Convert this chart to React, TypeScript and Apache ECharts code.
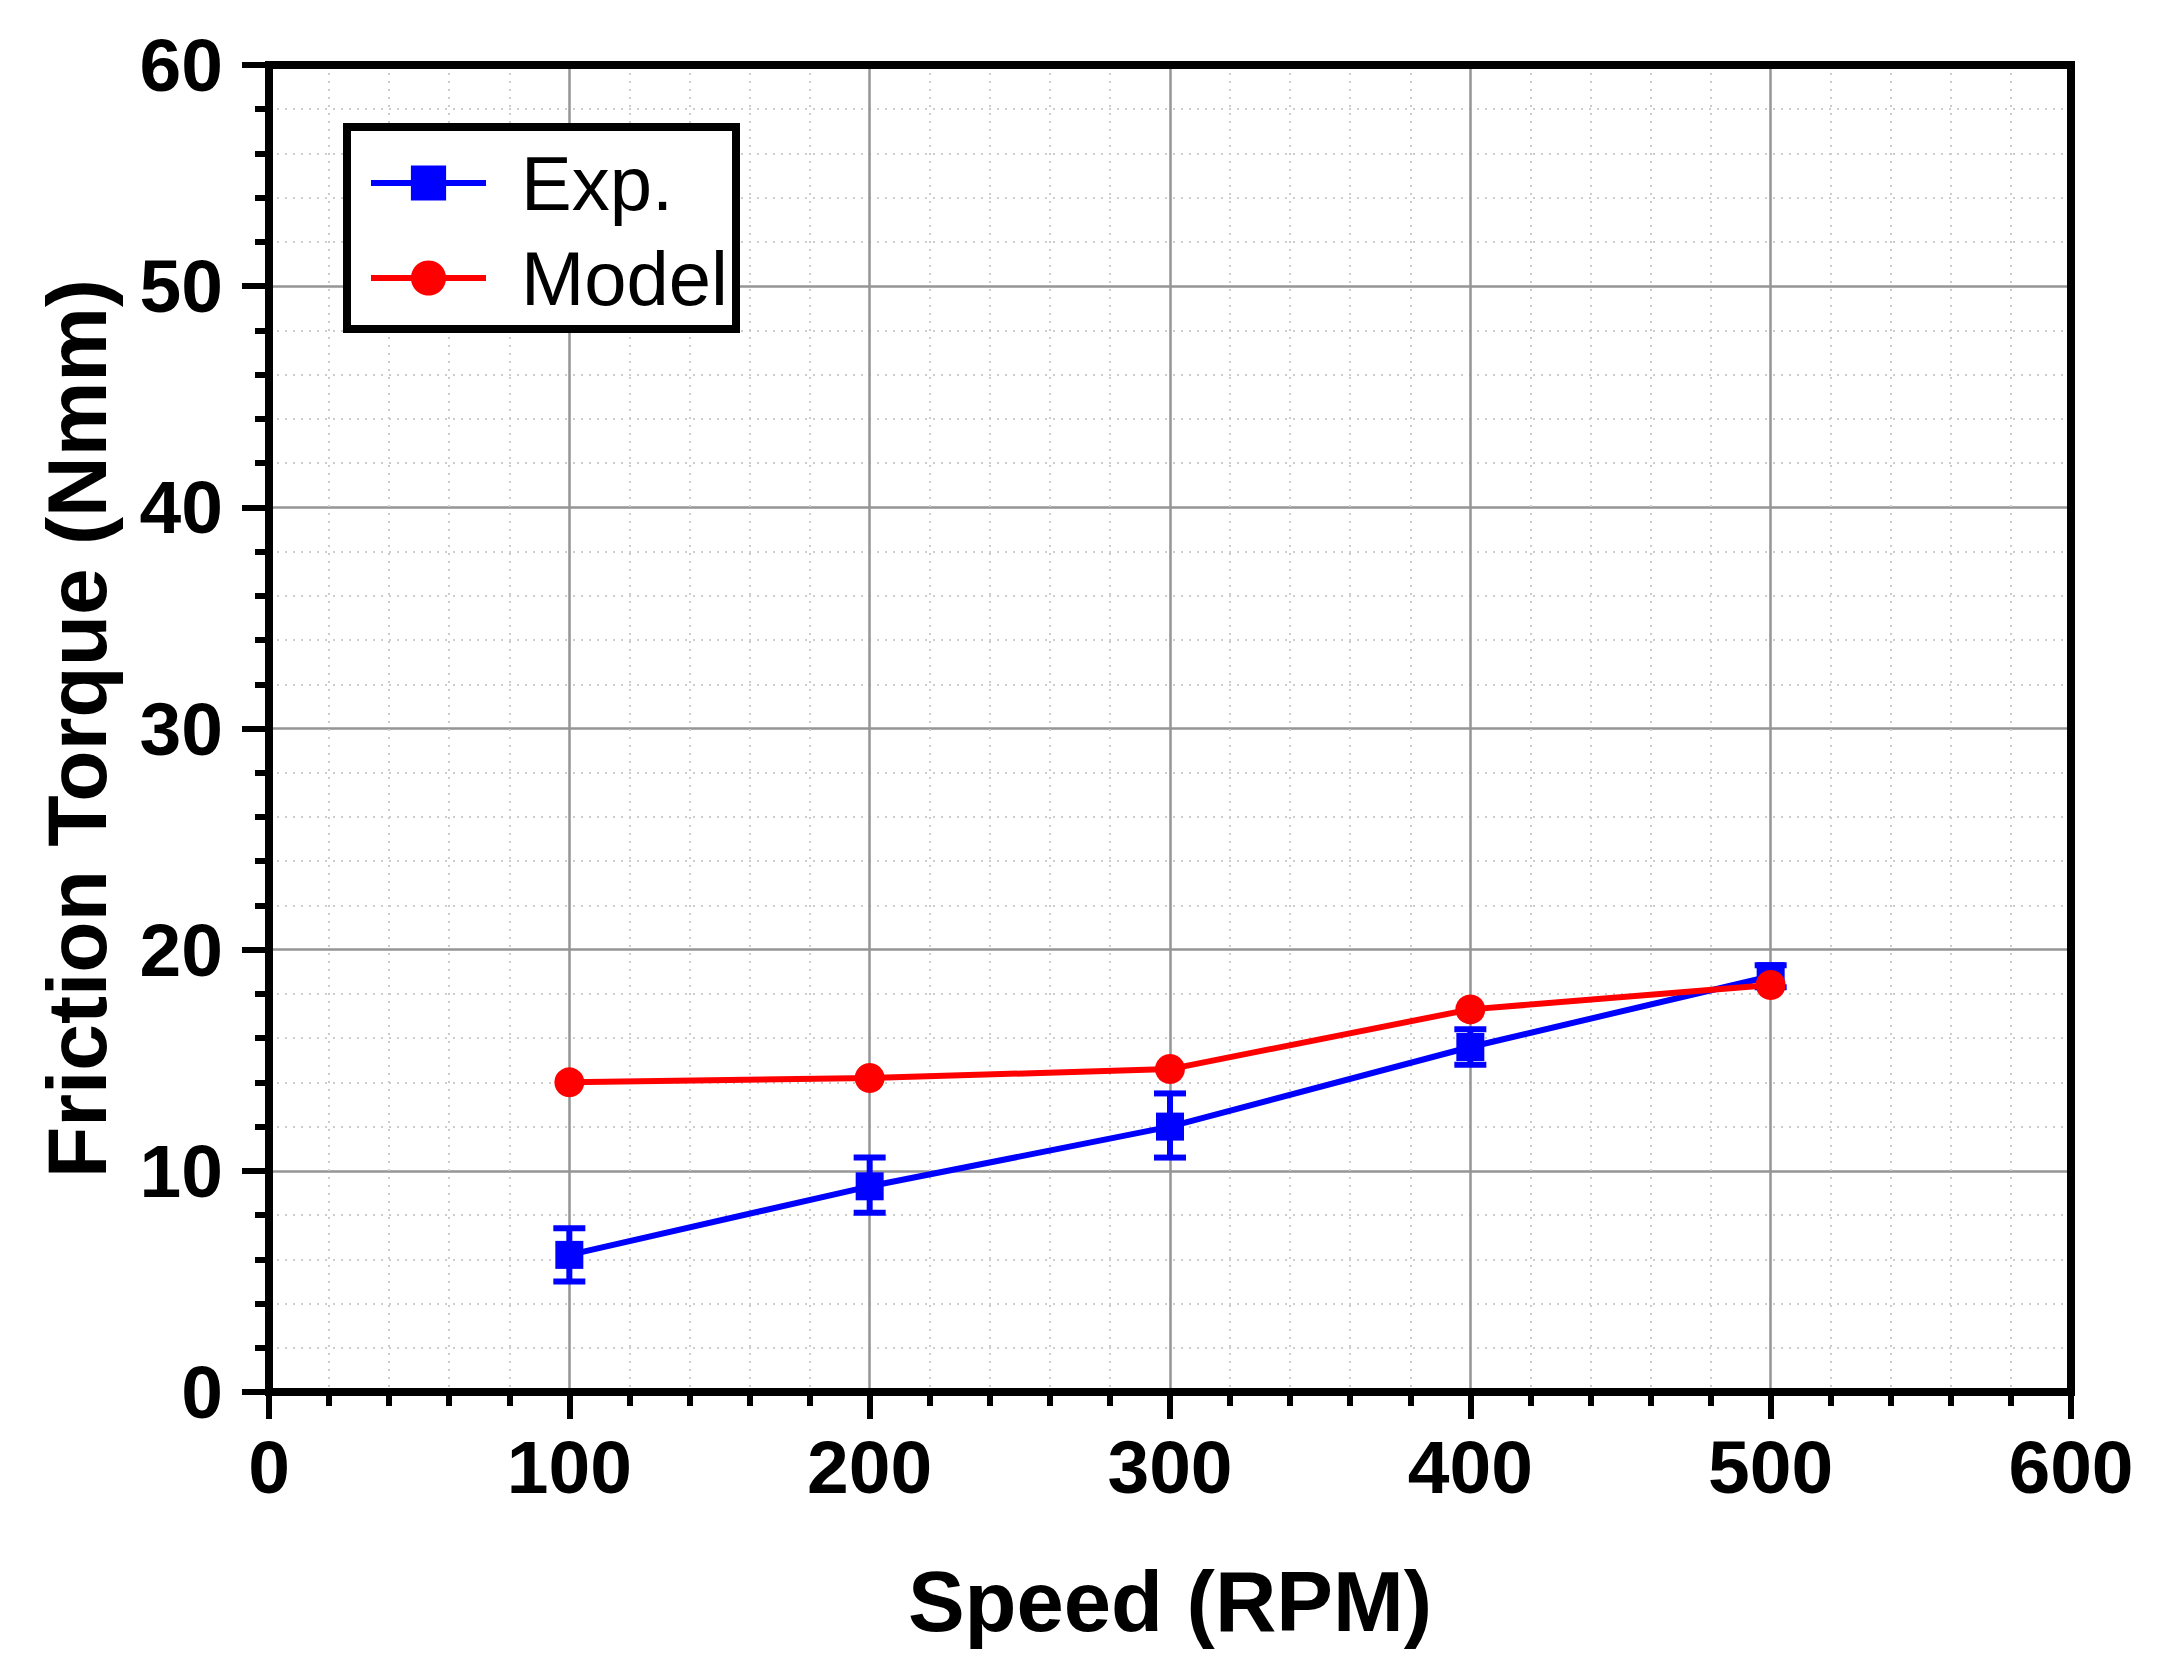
import React, { useEffect, useRef } from "react";
import * as echarts from "echarts";

// ---- data ----
const speeds = [100, 200, 300, 400, 500];
const expTorque = [6.2, 9.3, 12.0, 15.6, 18.8];
const expLow = [5.0, 8.1, 10.6, 14.8, 18.3];
const expHigh = [7.4, 10.6, 13.5, 16.4, 19.3];
const modelTorque = [14.0, 14.2, 14.6, 17.3, 18.4];
const seriesNames = ["Exp.", "Model"];
const xAxisTitle = "Speed (RPM)";
const yAxisTitle = "Friction Torque (Nmm)";

const FONT = "'Liberation Sans', Arial, Helvetica, sans-serif";
const BLUE = "#0000ff";
const RED = "#ff0000";

export default function App() {
  const ref = useRef<HTMLDivElement>(null);

  useEffect(() => {
    document.body.style.margin = "0";
    if (!ref.current) return;
    const chart = echarts.init(ref.current, undefined, { renderer: "svg" });

    const frameLine = { color: "#000", width: 8, cap: "square" as const };

    const option: any = {
      animation: false,
      backgroundColor: "#ffffff",
      grid: { left: 269, right: 89, top: 65, bottom: 280, containLabel: false },
      legend: {
        data: seriesNames,
        orient: "vertical",
        left: 347,
        top: 127,
        itemWidth: 115,
        itemHeight: 44,
        itemGap: 19,
        padding: [18, 8, 13, 21],
        borderColor: "#000",
        borderWidth: 8,
        backgroundColor: "#fff",
        selectedMode: false,
        lineStyle: { width: 6 },
        textStyle: {
          fontFamily: FONT,
          fontSize: 76,
          color: "#000",
          padding: [0, 0, 0, 30],
        },
      },
      xAxis: [
        {
          type: "value",
          min: 0,
          max: 600,
          interval: 100,
          position: "bottom",
          name: xAxisTitle,
          nameLocation: "middle",
          nameGap: 167,
          nameTextStyle: { fontFamily: FONT, fontWeight: "bold", fontSize: 85, color: "#000" },
          axisLine: { show: true, onZero: false, lineStyle: frameLine },
          axisTick: { show: true, inside: false, length: 27, lineStyle: { color: "#000", width: 6 } },
          minorTick: { show: true, splitNumber: 5, length: 14, lineStyle: { color: "#000", width: 6 } },
          axisLabel: { margin: 37, fontFamily: FONT, fontWeight: "bold", fontSize: 75, color: "#000" },
          splitLine: { show: true, lineStyle: { color: "#959595", width: 2.5 } },
          minorSplitLine: { show: true, lineStyle: { color: "#cccccc", width: 2, type: [2, 6] } },
        },
        {
          type: "value",
          min: 0,
          max: 600,
          position: "top",
          axisLine: { show: true, onZero: false, lineStyle: frameLine },
          axisTick: { show: false },
          axisLabel: { show: false },
          splitLine: { show: false },
        },
      ],
      yAxis: [
        {
          type: "value",
          min: 0,
          max: 60,
          interval: 10,
          position: "left",
          name: yAxisTitle,
          nameLocation: "middle",
          nameGap: 150,
          nameTextStyle: { fontFamily: FONT, fontWeight: "bold", fontSize: 84, color: "#000" },
          axisLine: { show: true, onZero: false, lineStyle: frameLine },
          axisTick: { show: true, inside: false, length: 27, lineStyle: { color: "#000", width: 6 } },
          minorTick: { show: true, splitNumber: 5, length: 14, lineStyle: { color: "#000", width: 6 } },
          axisLabel: { margin: 46, fontFamily: FONT, fontWeight: "bold", fontSize: 75, color: "#000" },
          splitLine: { show: true, lineStyle: { color: "#959595", width: 2.5 } },
          minorSplitLine: { show: true, lineStyle: { color: "#cccccc", width: 2, type: [2, 6] } },
        },
        {
          type: "value",
          min: 0,
          max: 60,
          position: "right",
          axisLine: { show: true, onZero: false, lineStyle: frameLine },
          axisTick: { show: false },
          axisLabel: { show: false },
          splitLine: { show: false },
        },
      ],
      series: [
        {
          type: "custom",
          name: "Exp. error",
          xAxisIndex: 0,
          yAxisIndex: 0,
          z: 3,
          data: speeds.map((s, i) => [s, expLow[i], expHigh[i]]),
          renderItem: (params: any, api: any) => {
            const x = api.value(0);
            const lo = api.coord([x, api.value(1)]);
            const hi = api.coord([x, api.value(2)]);
            const hw = 16;
            const style = { stroke: BLUE, lineWidth: 6 };
            return {
              type: "group",
              children: [
                { type: "line", shape: { x1: lo[0], y1: lo[1], x2: hi[0], y2: hi[1] }, style },
                { type: "line", shape: { x1: lo[0] - hw, y1: lo[1], x2: lo[0] + hw, y2: lo[1] }, style },
                { type: "line", shape: { x1: hi[0] - hw, y1: hi[1], x2: hi[0] + hw, y2: hi[1] }, style },
              ],
            };
          },
        },
        {
          type: "line",
          name: seriesNames[0],
          xAxisIndex: 0,
          yAxisIndex: 0,
          z: 4,
          data: speeds.map((s, i) => [s, expTorque[i]]),
          symbol: "rect",
          symbolSize: 28,
          showAllSymbol: true,
          lineStyle: { color: BLUE, width: 6 },
          itemStyle: { color: BLUE },
        },
        {
          type: "line",
          name: seriesNames[1],
          xAxisIndex: 0,
          yAxisIndex: 0,
          z: 5,
          data: speeds.map((s, i) => [s, modelTorque[i]]),
          symbol: "circle",
          symbolSize: 30,
          showAllSymbol: true,
          lineStyle: { color: RED, width: 6 },
          itemStyle: { color: RED },
        },
      ],
    };

    chart.setOption(option);
    return () => {
      chart.dispose();
    };
  }, []);

  return <div ref={ref} style={{ width: 2160, height: 1672 }} />;
}
